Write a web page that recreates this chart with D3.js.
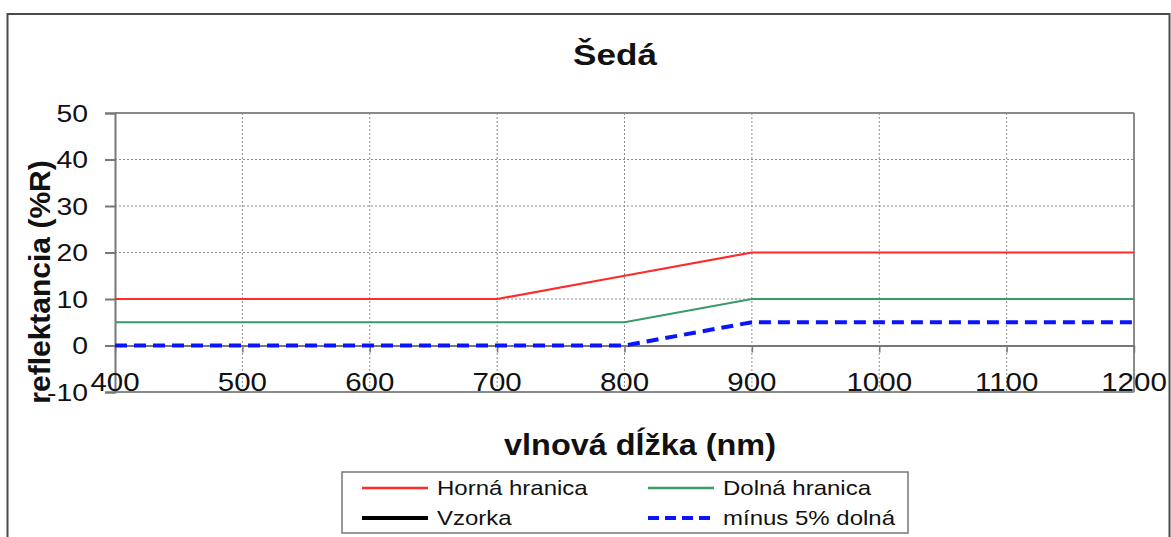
<!DOCTYPE html>
<html>
<head>
<meta charset="utf-8">
<script src="https://cdn.jsdelivr.net/npm/d3@7"></script>
<style>
  html, body { margin: 0; padding: 0; background: #fff; }
  svg { display: block; font-family: "Liberation Sans", Arial, sans-serif; }
</style>
</head>
<body>
<svg id="chart" width="1171" height="537"></svg>
<script>
// ---- data ----
const chartTitle = "Šedá";
const xTitle = "vlnová dĺžka (nm)";
const yTitle = "reflektancia (%R)";
const wavelengths = [400, 500, 600, 700, 800, 900, 1000, 1100, 1200];
const hornaHranica = [10, 10, 10, 10, 15, 20, 20, 20, 20];
const dolnaHranica = [5, 5, 5, 5, 5, 10, 10, 10, 10];
const vzorka = [];
const minus5Dolna = [0, 0, 0, 0, 0, 5, 5, 5, 5];
const xTicks = [400, 500, 600, 700, 800, 900, 1000, 1100, 1200];
const yTicks = [-10, 0, 10, 20, 30, 40, 50];
const seriesNames = ["Horná hranica", "Dolná hranica", "Vzorka", "mínus 5% dolná"];

// ---- layout ----
const svg = d3.select("#chart");
const L = 115, R = 1134, T = 113, B = 392;
const x = d3.scaleLinear().domain([400, 1200]).range([L, R]);
const y = d3.scaleLinear().domain([-10, 50]).range([B, T]);

function stext(g, str, px, py, opts) {
  const sx = opts.sx || 1.18;
  const t = g.append("text")
    .attr("transform", `translate(${px},${py}) scale(${sx},1)` + (opts.rot ? ` rotate(${opts.rot})` : ""))
    .attr("text-anchor", opts.anchor || "start")
    .attr("font-size", opts.size)
    .attr("font-weight", opts.weight || "normal")
    .attr("fill", opts.fill || "#111")
    .text(str);
  if (opts.dy) t.attr("dy", opts.dy);
  return t;
}

// outer frame
svg.append("rect").attr("x", 7.5).attr("y", 14).attr("width", 1162).attr("height", 540)
  .attr("fill", "none").attr("stroke", "#4a4a4a").attr("stroke-width", 2);

// gridlines
const grid = svg.append("g");
grid.selectAll("line.h").data(yTicks.filter(v => v > 0 && v < 50)).join("line")
  .attr("x1", L).attr("x2", R).attr("y1", d => y(d)).attr("y2", d => y(d))
  .attr("stroke", "#8c8c8c").attr("stroke-width", 1).attr("stroke-dasharray", "2,2");
grid.selectAll("line.v").data(xTicks.filter(v => v > 400 && v < 1200)).join("line")
  .attr("x1", d => x(d)).attr("x2", d => x(d)).attr("y1", T).attr("y2", B)
  .attr("stroke", "#8c8c8c").attr("stroke-width", 1).attr("stroke-dasharray", "2,2");

// plot frame
const frameColor = "#8a8a8a";
svg.append("line").attr("x1", L).attr("x2", R).attr("y1", T).attr("y2", T).attr("stroke", frameColor).attr("stroke-width", 2);
svg.append("line").attr("x1", R).attr("x2", R).attr("y1", T).attr("y2", B).attr("stroke", frameColor).attr("stroke-width", 2);
svg.append("line").attr("x1", L).attr("x2", R).attr("y1", B).attr("y2", B).attr("stroke", frameColor).attr("stroke-width", 2);

// y axis
const yAxis = d3.axisLeft(y).tickValues(yTicks).tickSize(10).tickFormat("");
const yg = svg.append("g").attr("transform", `translate(${L},0)`).call(yAxis);
yg.select(".domain").attr("stroke", "#777").attr("stroke-width", 2);
yg.selectAll(".tick line").attr("stroke", "#777").attr("stroke-width", 2);
yTicks.forEach(v => stext(svg, String(v), 88, y(v), { anchor: "end", size: 24, dy: "0.36em" }));

// x axis at zero
const xAxis = d3.axisBottom(x).tickValues(xTicks).tickSize(7).tickSizeOuter(0).tickFormat("");
const xg = svg.append("g").attr("transform", `translate(0,${y(0)})`).call(xAxis);
xg.select(".domain").attr("stroke", "#777").attr("stroke-width", 2);
xg.selectAll(".tick line").attr("stroke", "#777").attr("stroke-width", 1.5);
xTicks.forEach(v => stext(svg, String(v), x(v), 391, { anchor: "middle", size: 25 }));

// series
const line = d3.line().x(d => x(d[0])).y(d => y(d[1]));
const series = [
  { name: seriesNames[0], vals: hornaHranica, color: "#ff2a2a", w: 2.2, dash: null },
  { name: seriesNames[1], vals: dolnaHranica, color: "#3a9a68", w: 2.2, dash: null },
  { name: seriesNames[2], vals: vzorka, color: "#000000", w: 3.5, dash: null },
  { name: seriesNames[3], vals: minus5Dolna, color: "#0a14ff", w: 4, dash: "12,7" }
];
series.forEach(s => {
  if (!s.vals.length) return;
  const pts = wavelengths.map((w, i) => [w, s.vals[i]]);
  svg.append("path").attr("d", line(pts)).attr("fill", "none")
    .attr("stroke", s.color).attr("stroke-width", s.w)
    .attr("stroke-dasharray", s.dash);
});

// titles
stext(svg, chartTitle, 615, 65, { anchor: "middle", size: 30, weight: "bold", sx: 1.17 });
stext(svg, xTitle, 640, 455, { anchor: "middle", size: 30, weight: "bold", sx: 1.08 });
stext(svg, yTitle, 50, 282, { anchor: "middle", size: 30, weight: "bold", sx: 1, rot: -90 });

// legend
const lg = svg.append("g");
lg.append("rect").attr("x", 342).attr("y", 472).attr("width", 566).attr("height", 61)
  .attr("fill", "#fff").attr("stroke", "#777").attr("stroke-width", 1.5);
const legPos = [[362, 488], [648, 488], [362, 518], [648, 518]];
series.forEach((s, i) => {
  const [lx, ly] = legPos[i];
  lg.append("line").attr("x1", lx).attr("x2", lx + 66).attr("y1", ly).attr("y2", ly)
    .attr("stroke", s.color).attr("stroke-width", s.dash ? 4 : (i === 2 ? 4 : 2.5))
    .attr("stroke-dasharray", s.dash ? "11,6" : null);
  stext(lg, s.name, lx + 75, ly, { anchor: "start", size: 20, dy: "0.36em", sx: 1.2 });
});
</script>
</body>
</html>
